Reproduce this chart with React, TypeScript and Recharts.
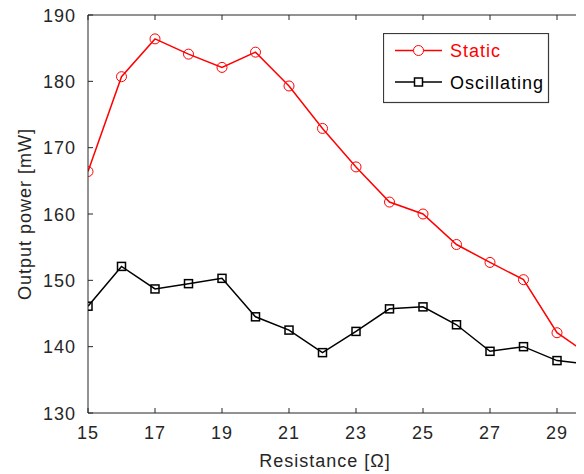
import React from "react";
import { LineChart, Line, XAxis, YAxis, Legend } from "recharts";

const resistance = [15, 16, 17, 18, 19, 20, 21, 22, 23, 24, 25, 26, 27, 28, 29, 30];
const staticPower = [166.4, 180.7, 186.4, 184.1, 182.1, 184.4, 179.3, 172.9, 167.1, 161.8, 160.0, 155.4, 152.7, 150.1, 142.1, 138.6];
const oscillatingPower = [146.1, 152.1, 148.7, 149.5, 150.3, 144.5, 142.5, 139.1, 142.3, 145.7, 146.0, 143.3, 139.3, 140.0, 137.9, 137.3];
const xTicks = [15, 17, 19, 21, 23, 25, 27, 29];
const yTicks = [130, 140, 150, 160, 170, 180, 190];
const seriesNames = ["Static", "Oscillating"];
const seriesColors = ["#ff0000", "#000000"];
const xLabel = "Resistance [\u03A9]";
const yLabel = "Output power [mW]";

const data = resistance.map((r, i) => ({
  r,
  stat: staticPower[i],
  osc: oscillatingPower[i],
}));

const FONT = '"Liberation Sans", Arial, Helvetica, sans-serif';
const AX = "#262626";
const textStyle = { fontFamily: FONT, fontSize: 18, letterSpacing: 1, fill: AX };

const BottomTick = (props: any) => {
  const { x, y, payload } = props;
  return (
    <g>
      <line x1={x} x2={x} y1={y} y2={y - 5} stroke={AX} strokeWidth={1} />
      <text x={x} y={y + 26} textAnchor="middle" style={textStyle}>
        {payload.value}
      </text>
    </g>
  );
};

const TopTick = (props: any) => {
  const { x, y } = props;
  return <line x1={x} x2={x} y1={y} y2={y + 5} stroke={AX} strokeWidth={1} />;
};

const LeftTick = (props: any) => {
  const { x, y, payload } = props;
  return (
    <g>
      <line x1={x} x2={x + 5} y1={y} y2={y} stroke={AX} strokeWidth={1} />
      <text x={x - 12} y={y + 6.5} textAnchor="end" style={textStyle}>
        {payload.value}
      </text>
    </g>
  );
};

const SquareDot = (props: any) => {
  const { cx, cy } = props;
  if (cx == null || cy == null) return null;
  return (
    <rect
      key={`sq-${cx}-${cy}`}
      x={cx - 4}
      y={cy - 4}
      width={8}
      height={8}
      fill="none"
      stroke="#000"
      strokeWidth={1.5}
    />
  );
};

const YLabel = (props: any) => {
  const vb = props.viewBox || { x: 0, y: 15, width: 88, height: 398 };
  const cx = vb.x + 25;
  const cy = vb.y + vb.height / 2;
  return (
    <text
      x={cx}
      y={cy}
      transform={`rotate(-90, ${cx}, ${cy})`}
      textAnchor="middle"
      dominantBaseline="central"
      style={textStyle}
    >
      {yLabel}
    </text>
  );
};

const XLabel = (props: any) => {
  const vb = props.viewBox || { x: 88, y: 413, width: 502, height: 61 };
  return (
    <text x={vb.x + 237} y={vb.y + 54} textAnchor="middle" style={textStyle}>
      {xLabel}
    </text>
  );
};

const LegendBox = () => {
  const rows = [17.5, 49];
  return (
    <svg width={167} height={71} style={{ display: "block" }}>
      <rect x={0.5} y={0.5} width={165} height={69} fill="#fff" stroke="#3a3a3a" strokeWidth={1.2} />
      {seriesNames.map((name, i) => {
        const y = rows[i];
        return (
          <g key={name}>
            <line x1={12} x2={59} y1={y} y2={y} stroke={seriesColors[i]} strokeWidth={1.5} />
            {i === 0 ? (
              <circle cx={35.5} cy={y} r={5} fill="#fff" stroke={seriesColors[i]} strokeWidth={1} />
            ) : (
              <rect x={31.5} y={y - 4} width={8} height={8} fill="#fff" stroke={seriesColors[i]} strokeWidth={1.5} />
            )}
            <text
              x={67}
              y={y + 6.5}
              style={{ fontFamily: FONT, fontSize: 18, letterSpacing: 1, fill: seriesColors[i] }}
            >
              {name}
            </text>
          </g>
        );
      })}
    </svg>
  );
};

export default function App() {
  return (
    <div
      style={{
        width: 584,
        height: 474,
        overflow: "hidden",
        position: "relative",
        margin: "-8px 0 0 -8px",
        fontFamily: FONT,
      }}
    >
      <LineChart
        width={628}
        height={474}
        data={data}
        margin={{ top: 0, right: 37.5, bottom: 0, left: 0 }}
      >
        <XAxis
          xAxisId="bottom"
          dataKey="r"
          type="number"
          domain={[15, 30]}
          ticks={xTicks}
          interval={0}
          height={61}
          tickSize={0}
          tickMargin={0}
          tickLine={false}
          axisLine={{ stroke: AX, strokeWidth: 1 }}
          tick={<BottomTick />}
          label={<XLabel />}
          allowDataOverflow
        />
        <XAxis
          xAxisId="top"
          orientation="top"
          dataKey="r"
          type="number"
          domain={[15, 30]}
          ticks={xTicks}
          interval={0}
          height={15}
          tickSize={0}
          tickMargin={0}
          tickLine={false}
          axisLine={{ stroke: AX, strokeWidth: 1 }}
          tick={<TopTick />}
          allowDataOverflow
        />
        <YAxis
          yAxisId="left"
          type="number"
          domain={[130, 190]}
          ticks={yTicks}
          interval={0}
          width={88}
          tickSize={0}
          tickMargin={0}
          tickLine={false}
          axisLine={{ stroke: AX, strokeWidth: 1 }}
          tick={<LeftTick />}
          label={<YLabel />}
          allowDataOverflow
        />
        <Legend
          layout="horizontal"
          verticalAlign="middle"
          align="center"
          content={<LegendBox />}
          wrapperStyle={{ left: 383, top: 33, width: 167, height: 71 }}
        />
        <Line
          xAxisId="bottom"
          yAxisId="left"
          type="linear"
          dataKey="osc"
          name={seriesNames[1]}
          stroke={seriesColors[1]}
          strokeWidth={1.5}
          dot={<SquareDot />}
          activeDot={false}
          isAnimationActive={false}
        />
        <Line
          xAxisId="bottom"
          yAxisId="left"
          type="linear"
          dataKey="stat"
          name={seriesNames[0]}
          stroke={seriesColors[0]}
          strokeWidth={1.5}
          dot={{ r: 5, stroke: "#ff0000", strokeWidth: 1, fill: "none" }}
          activeDot={false}
          isAnimationActive={false}
        />
      </LineChart>
    </div>
  );
}
